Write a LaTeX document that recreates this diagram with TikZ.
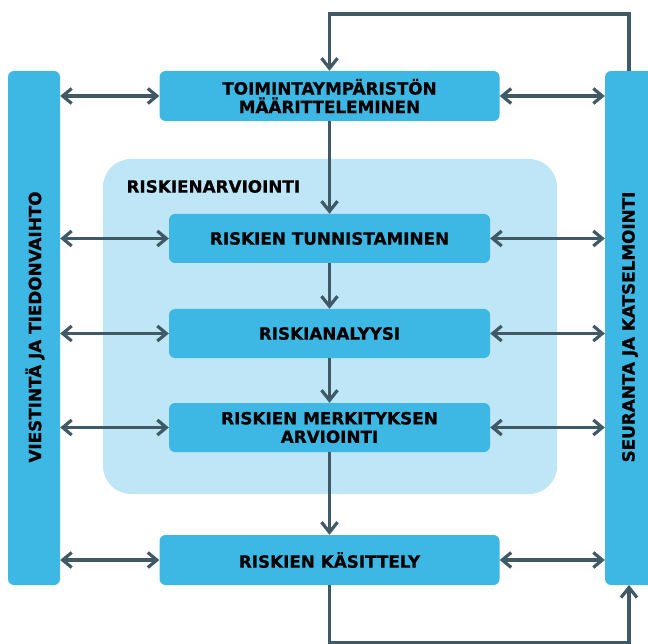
\documentclass[tikz,border=0pt]{standalone}
\usepackage{fontspec}
\setmainfont{DejaVu Sans}[BoldFeatures={FakeBold=0.8}]
\usetikzlibrary{arrows.meta}
\definecolor{boxblue}{HTML}{3DB8E4}
\definecolor{lightblue}{HTML}{BEE6F6}
\definecolor{arrowc}{HTML}{3F5A66}
\tikzset{
  lbl/.style={font=\fontsize{16.8}{18.5}\selectfont\bfseries, text=black},
  box/.style={lbl, fill=boxblue, draw=none, rounded corners=6pt, inner sep=0pt, align=center},
  bar/.style={fill=boxblue, draw=none, rounded corners=6pt},
  conn/.style={draw=arrowc, line width=3.4pt, -{Straight Barb[length=10pt,width=16pt,line width=3.2pt]}},
  biconn/.style={draw=arrowc, line width=3.4pt, {Straight Barb[length=9pt,width=15pt,line width=3.2pt]}-{Straight Barb[length=9pt,width=15pt,line width=3.2pt]}},
}
\begin{document}
\begin{tikzpicture}[x=1pt,y=-1pt]
\useasboundingbox (0,0) rectangle (648,644);
\clip (0,0) rectangle (648,644);
% side bars
\node[bar, minimum width=52pt, minimum height=514pt] (left) at (34,328) {};
\node[bar, minimum width=52pt, minimum height=514pt] (right) at (631,328) {};
\node[lbl, rotate=90] (lefttxt) at (35,327) {VIESTINTÄ JA TIEDONVAIHTO};
\node[lbl, rotate=90] (righttxt) at (630,327) {SEURANTA JA KATSELMOINTI};
% light region
\node[fill=lightblue, draw=none, rounded corners=28pt, minimum width=454pt, minimum height=335pt] (region) at (330,326.5) {};
\node[lbl, anchor=west] (regtxt) at (123,186.5) {RISKIENARVIOINTI};
% boxes
\node[box, minimum width=340pt, minimum height=50pt] (b1) at (329.5,96) {TOIMINTAYMPÄRISTÖN\\MÄÄRITTELEMINEN};
\node[box, minimum width=321pt, minimum height=49pt] (b2) at (329.5,238.5) {RISKIEN TUNNISTAMINEN};
\node[box, minimum width=321pt, minimum height=49pt] (b3) at (329.5,333.5) {RISKIANALYYSI};
\node[box, minimum width=321pt, minimum height=49pt] (b4) at (329.5,427.5) {RISKIEN MERKITYKSEN\\ARVIOINTI};
\node[box, minimum width=340pt, minimum height=50pt] (b5) at (329.5,560) {RISKIEN KÄSITTELY};
% vertical flow
\draw[conn] (b1.south) -- (b2.north);
\draw[conn] (b2.south) -- (b3.north);
\draw[conn] (b3.south) -- (b4.north);
\draw[conn] (b4.south) -- (b5.north);
% loops
\coordinate (tr) at (629,14);
\coordinate (tl) at (329.5,14);
\coordinate (bl) at (329.5,643);
\coordinate (br) at (629,643);
\coordinate (rtop) at (629,71);
\coordinate (rbot) at (629,585);
\draw[conn] (rtop) -- (tr) -- (tl) -- (b1.north);
\draw[conn] (b5.south) -- (bl) -- (br) -- (rbot);
% horizontal bidirectional arrows
\foreach \b in {b1,b2,b3,b4,b5}{
  \draw[biconn] (left.east |- \b.west) -- (\b.west);
  \draw[biconn] (\b.east) -- (right.west |- \b.east);
}
\end{tikzpicture}
\end{document}
